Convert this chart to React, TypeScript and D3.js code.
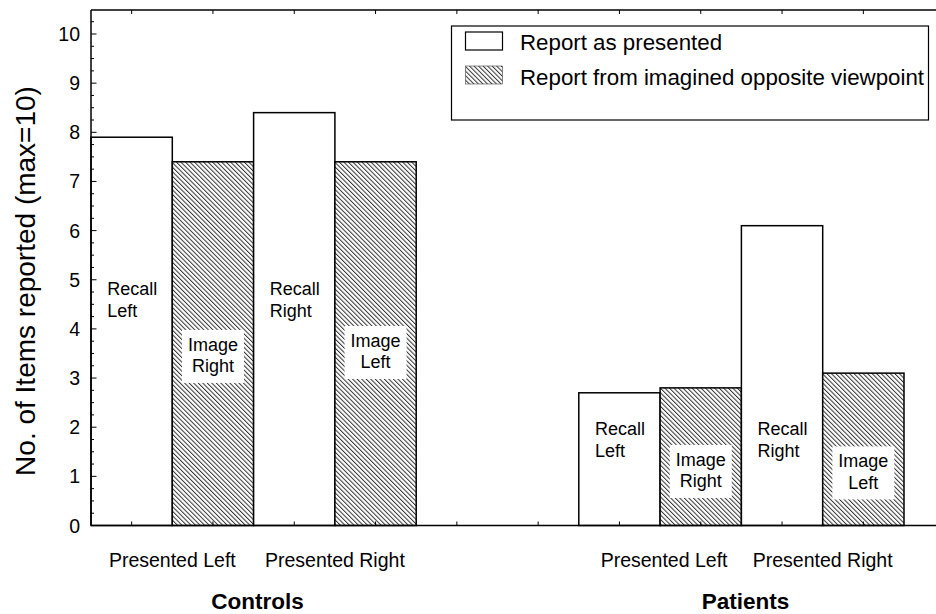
import React from "react";
import * as d3 from "d3";

// ---- data ----
const groups = ["Controls", "Patients"];
const presentedLabels = ["Presented Left", "Presented Right"];
const seriesNames = ["Report as presented", "Report from imagined opposite viewpoint"];
// bar order per group: Recall(PL), Image(PL), Recall(PR), Image(PR)
const controlsValues = [7.9, 7.4, 8.4, 7.4];
const patientsValues = [2.7, 2.8, 6.1, 3.1];
const barSeries = [0, 1, 0, 1];
const barLabels = [
  ["Recall", "Left"],
  ["Image", "Right"],
  ["Recall", "Right"],
  ["Image", "Left"],
];
// annotation anchor (data units) for each bar label
const controlsLabelAt = [4.59, 3.44, 4.59, 3.52];
const patientsLabelAt = [1.74, 1.1, 1.74, 1.07];
const yTicks = [0, 1, 2, 3, 4, 5, 6, 7, 8, 9, 10];
const yTitle = "No. of Items reported (max=10)";

const slots = [
  "C0", "C1", "C2", "C3", "g0", "g1", "P0", "P1", "P2", "P3", "g2",
];

const W = 936;
const H = 614;
const left = 91;
const top = 10;
const bottom = 525.5;
const slotW = 81.3;

export default function App() {
  const x = d3
    .scaleBand<string>()
    .domain(slots)
    .range([left, left + slotW * slots.length])
    .padding(0);
  const y = d3.scaleLinear().domain([0, 10]).range([bottom, bottom - 491.5]);
  const yTopVal = y.invert(top);
  const minorTicks = d3.range(0, yTopVal, 0.25).filter((v) => Math.abs(v - Math.round(v)) > 1e-6);

  const bars: { key: string; value: number; series: number; label: string[]; labelAt: number }[] = [];
  [controlsValues, patientsValues].forEach((vals, gi) => {
    const lab = gi === 0 ? controlsLabelAt : patientsLabelAt;
    vals.forEach((v, i) => {
      bars.push({
        key: (gi === 0 ? "C" : "P") + i,
        value: v,
        series: barSeries[i],
        label: barLabels[i],
        labelAt: lab[i],
      });
    });
  });

  const bw = x.bandwidth();
  const font = "'Liberation Sans', Arial, Helvetica, sans-serif";
  const lh = 21.5;

  return (
    <svg
      width={W}
      height={H}
      style={{ position: "absolute", left: 0, top: 0, background: "#fff" }}
      fontFamily={font}
    >
      <defs>
        <pattern
          id="hatch"
          patternUnits="userSpaceOnUse"
          width={3.2}
          height={3.2}
          patternTransform="rotate(-45)"
        >
          <rect width={3.2} height={3.2} fill="#fff" />
          <line x1={0.5} y1={0} x2={0.5} y2={3.2} stroke="#333" strokeWidth={1} />
        </pattern>
      </defs>
      <rect x={0} y={0} width={W} height={H} fill="#fff" />

      {/* bars */}
      {bars.map((b) => (
        <rect
          key={b.key}
          x={x(b.key)!}
          y={y(b.value)}
          width={bw}
          height={y(0) - y(b.value)}
          fill={b.series === 0 ? "#fff" : "url(#hatch)"}
          stroke="#000"
          strokeWidth={1.5}
        />
      ))}

      {/* bar labels */}
      {bars.map((b) => {
        const cx = x(b.key)! + bw / 2;
        const cy = y(b.labelAt);
        if (b.series === 0) {
          return (
            <text key={"l" + b.key} fontSize={18} fill="#000">
              <tspan x={cx - 24.5} y={cy - 4.5}>{b.label[0]}</tspan>
              <tspan x={cx - 24.5} y={cy - 4.5 + lh}>{b.label[1]}</tspan>
            </text>
          );
        }
        return (
          <g key={"l" + b.key}>
            <rect x={cx - 31} y={cy - 26.5} width={62} height={53} fill="#fff" />
            <text fontSize={18} fill="#000" textAnchor="middle">
              <tspan x={cx} y={cy - 5.5}>{b.label[0]}</tspan>
              <tspan x={cx} y={cy - 5.5 + lh}>{b.label[1]}</tspan>
            </text>
          </g>
        );
      })}

      {/* frame */}
      <line x1={left} y1={top} x2={W} y2={top} stroke="#000" strokeWidth={1.5} />
      <line x1={left} y1={bottom} x2={W} y2={bottom} stroke="#000" strokeWidth={1.5} />
      <line x1={left} y1={top} x2={left} y2={bottom} stroke="#000" strokeWidth={1.5} />

      {/* x ticks top and bottom */}
      {slots.map((s) => {
        const cx = x(s)! + bw / 2;
        return (
          <g key={"xt" + s}>
            <line x1={cx} y1={top} x2={cx} y2={top + 4} stroke="#000" strokeWidth={1} />
            <line x1={cx} y1={bottom} x2={cx} y2={bottom - 4} stroke="#000" strokeWidth={1} />
          </g>
        );
      })}

      {/* y ticks */}
      {minorTicks.map((v) => (
        <line key={"m" + v} x1={left} y1={y(v)} x2={left + 3} y2={y(v)} stroke="#000" strokeWidth={1} />
      ))}
      {yTicks.map((v) => (
        <g key={"y" + v}>
          <line x1={left} y1={y(v)} x2={left + 5.5} y2={y(v)} stroke="#000" strokeWidth={1} />
          <text x={80} y={y(v)} dy="0.36em" textAnchor="end" fontSize={19.5} fill="#000">
            {v}
          </text>
        </g>
      ))}

      {/* y title */}
      <text
        transform={`translate(35, ${281}) rotate(-90)`}
        textAnchor="middle"
        fontSize={28}
        fill="#000"
      >
        {yTitle}
      </text>

      {/* x labels */}
      {groups.map((g, gi) => {
        const p = gi === 0 ? "C" : "P";
        const pairCenters = [x(p + "1")!, x(p + "3")!];
        const gc = (x(p + "0")! + x(p + "3")! + bw) / 2;
        return (
          <g key={"g" + g}>
            {presentedLabels.map((pl, i) => (
              <text key={pl} x={pairCenters[i] + (gi === 1 && i === 0 ? 4 : 0)} y={567} textAnchor="middle" fontSize={19.5} fill="#000">
                {pl}
              </text>
            ))}
            <text x={gc + 4} y={609} textAnchor="middle" fontSize={22.5} fontWeight="bold" fill="#000">
              {g}
            </text>
          </g>
        );
      })}

      {/* legend */}
      <g>
        <rect x={451.5} y={26} width={477} height={94} fill="#fff" stroke="#000" strokeWidth={1.2} />
        <rect x={465.5} y={32} width={37} height={18} fill="#fff" stroke="#000" strokeWidth={1.2} />
        <rect x={465.5} y={66} width={37} height={18} fill="url(#hatch)" stroke="#444" strokeWidth={0.6} />
        <text x={520} y={49.5} fontSize={22.3} fill="#000">{seriesNames[0]}</text>
        <text x={520} y={84.5} fontSize={22.3} fill="#000">{seriesNames[1]}</text>
      </g>
    </svg>
  );
}
